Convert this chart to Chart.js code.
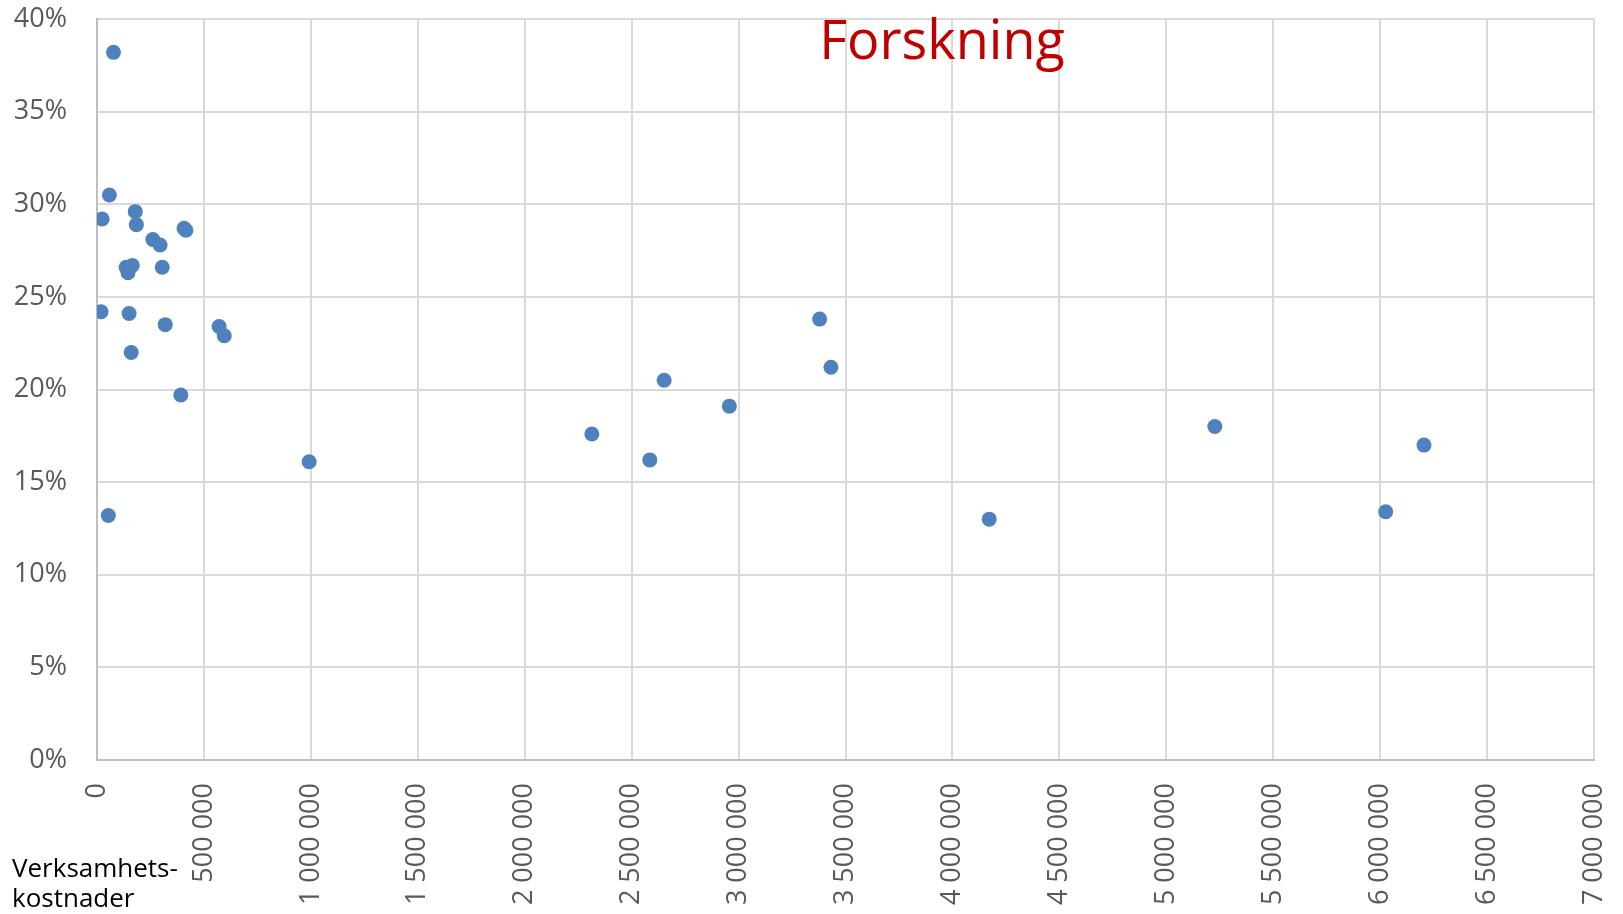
<!DOCTYPE html>
<html>
<head>
<meta charset="utf-8">
<script src="https://cdn.jsdelivr.net/npm/chart.js@4/dist/chart.umd.min.js"></script>
<style>
html,body{margin:0;padding:0;background:#fff;}
#wrap{width:1623px;height:914px;position:relative;}
</style>
</head>
<body>
<div id="wrap"><canvas id="c" width="1623" height="914"></canvas></div>
<script>
// Verksamhetskostnader (x) and research share in percent (y)
const costValues = [77000, 58000, 24000, 179000, 184000, 407000, 416000, 261000, 295000, 136000, 165000, 145000, 305000, 19000, 150000, 319000, 571000, 595000, 160000, 392000, 992000, 53000, 2314000, 2585000, 2652000, 2957000, 3379000, 3432000, 4172000, 5227000, 6026000, 6205000];
const researchShare = [38.2, 30.5, 29.2, 29.6, 28.9, 28.7, 28.6, 28.1, 27.8, 26.6, 26.7, 26.3, 26.6, 24.2, 24.1, 23.5, 23.4, 22.9, 22.0, 19.7, 16.1, 13.2, 17.6, 16.2, 20.5, 19.1, 23.8, 21.2, 13.0, 18.0, 13.4, 17.0];
const chartTitle = "Forskning";
const xAxisTitle = ["Verksamhets-", "kostnader"];
const xMin = 0, xMax = 7000000, xStep = 500000;
const yMin = 0, yMax = 40, yStep = 5;

const points = costValues.map((x, i) => ({x: x, y: researchShare[i]}));

function fmtThousands(v) {
  return String(Math.round(v)).replace(/\B(?=(\d{3})+(?!\d))/g, ' ');
}

const FONT = "'Open Sans', 'Liberation Sans', sans-serif";

const textPlugin = {
  id: 'textPlugin',
  afterDraw(chart) {
    const ctx = chart.ctx;
    ctx.save();
    ctx.fillStyle = '#c00000';
    ctx.font = "54px " + FONT;
    ctx.textAlign = 'center';
    ctx.textBaseline = 'alphabetic';
    ctx.fillText(chartTitle, 942, 59);
    ctx.fillStyle = '#000000';
    ctx.font = "26px " + FONT;
    ctx.textAlign = 'left';
    ctx.fillText(xAxisTitle[0], 12, 877);
    ctx.fillText(xAxisTitle[1], 12, 907);
    ctx.restore();
  }
};

new Chart(document.getElementById('c'), {
  type: 'scatter',
  data: {
    datasets: [{
      data: points,
      backgroundColor: '#4f81bd',
      borderColor: '#4f81bd',
      pointRadius: 7.5,
      pointHoverRadius: 7.5,
      borderWidth: 0
    }]
  },
  options: {
    responsive: false,
    animation: false,
    layout: {padding: {top: 19, right: 29, left: 0, bottom: 0}},
    plugins: {legend: {display: false}, tooltip: {enabled: false}, title: {display: false}},
    scales: {
      x: {
        type: 'linear',
        min: xMin, max: xMax,
        afterFit(s) { s.height = 154; s.paddingLeft = 0; s.paddingRight = 0; },
        ticks: {
          stepSize: xStep,
          minRotation: 90, maxRotation: 90,
          autoSkip: false,
          padding: 23,
          color: '#595959',
          font: {family: FONT, size: 27},
          callback: (v) => fmtThousands(v)
        },
        grid: {color: '#d9d9d9', lineWidth: 2, drawTicks: false},
        border: {color: '#bfbfbf', width: 2}
      },
      y: {
        type: 'linear',
        min: yMin, max: yMax,
        afterFit(s) { s.width = 97; s.paddingTop = 0; s.paddingBottom = 0; },
        ticks: {
          stepSize: yStep,
          padding: 30,
          color: '#595959',
          font: {family: FONT, size: 27},
          callback: (v) => v + '%'
        },
        grid: {color: '#d9d9d9', lineWidth: 2, drawTicks: false},
        border: {color: '#bfbfbf', width: 2}
      }
    }
  },
  plugins: [textPlugin]
});
</script>
</body>
</html>
